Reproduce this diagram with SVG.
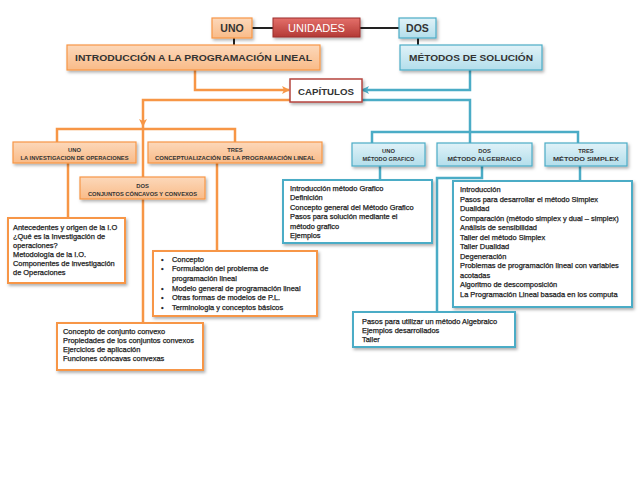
<svg xmlns="http://www.w3.org/2000/svg" width="638" height="479" viewBox="0 0 638 479">
<defs>
<linearGradient id="gOr" x1="0" y1="0" x2="0" y2="1"><stop offset="0" stop-color="#fcd8ba"/><stop offset="1" stop-color="#f9bb88"/></linearGradient>
<linearGradient id="gBl" x1="0" y1="0" x2="0" y2="1"><stop offset="0" stop-color="#e0f2f8"/><stop offset="1" stop-color="#b3deeb"/></linearGradient>
<linearGradient id="gRd" x1="0" y1="0" x2="0" y2="1"><stop offset="0" stop-color="#e4706b"/><stop offset="1" stop-color="#b43a35"/></linearGradient>
<filter id="sh" x="-10%" y="-10%" width="130%" height="140%"><feDropShadow dx="1.5" dy="2" stdDeviation="1.5" flood-color="#000" flood-opacity="0.3"/></filter>
<marker id="aO" markerWidth="8" markerHeight="8" refX="7" refY="4" orient="auto" markerUnits="userSpaceOnUse"><path d="M0,0 L8,4 L0,8 L2,4 Z" fill="#f79646"/></marker>
<marker id="aB" markerWidth="8" markerHeight="8" refX="7" refY="4" orient="auto" markerUnits="userSpaceOnUse"><path d="M0,0 L8,4 L0,8 L2,4 Z" fill="#4bacc6"/></marker>
</defs>
<style>
.bo{fill:url(#gOr);stroke:#f79646;stroke-width:1.2;filter:url(#sh)}
.bb{fill:url(#gBl);stroke:#4bacc6;stroke-width:1.2;filter:url(#sh)}
.wo{fill:#fff;stroke:#f79646;stroke-width:2;filter:url(#sh)}
.wb{fill:#fff;stroke:#4bacc6;stroke-width:2;filter:url(#sh)}
.co{fill:none;stroke:#f79646;stroke-width:2.5}
.cb{fill:none;stroke:#4bacc6;stroke-width:2.5}
.ck{fill:none;stroke:#222;stroke-width:2}
.h{font-family:"Liberation Sans",Arial,sans-serif;font-weight:bold;fill:#333;text-anchor:middle}
.t{font-family:"Liberation Sans",Arial,sans-serif;font-size:7.45px;fill:#222;stroke:#222;stroke-width:0.25}
</style>

<g id="connectors">
<path class="ck" d="M252,28 H273 M360,28 H399 M234,37 V46 M418,37 V46"/>
<path class="co" d="M195,70 V90 H289" marker-end="url(#aO)"/>
<path class="cb" d="M470,70 V90 H362" marker-end="url(#aB)"/>
<path class="co" d="M290,100 H143 V126" marker-end="url(#aO)"/>
<path class="co" d="M143,126 V323"/>
<path class="co" d="M57,142 V129 H235 V142"/>
<path class="co" d="M68,162 V218 M217,162 V251"/>
<path class="cb" d="M361,100 H470 V132"/>
<path class="cb" d="M372,143 V132 H578 V143 M470,132 V143"/>
<path class="cb" d="M380,166 V180 M580,166 V180 M482,166 V178 H437 V312"/>
</g>

<g id="uno-top"><rect class="bo" x="212" y="18" width="40" height="20"/><text class="h" x="232" y="32" font-size="10.5" fill="#222">UNO</text></g>
<g id="unidades"><rect x="273" y="18" width="87" height="19" fill="url(#gRd)" stroke="#9b2f2b" stroke-width="1" filter="url(#sh)"/><text x="316.5" y="31.5" font-family="Liberation Sans,Arial,sans-serif" font-size="11" fill="#fff" text-anchor="middle">UNIDADES</text></g>
<g id="dos-top"><rect class="bb" x="399" y="18" width="37" height="20"/><text class="h" x="417.5" y="32" font-size="10.5" fill="#222">DOS</text></g>

<g id="intro"><rect class="bo" x="67" y="45" width="253" height="25"/><text class="h" x="193.5" y="61" font-size="9.5" textLength="237" lengthAdjust="spacingAndGlyphs">INTRODUCCIÓN A LA PROGRAMACIÓN LINEAL</text></g>
<g id="metodos"><rect class="bb" x="400" y="45" width="142" height="25"/><text class="h" x="471" y="61" font-size="9.5" textLength="124" lengthAdjust="spacingAndGlyphs">MÉTODOS DE SOLUCIÓN</text></g>
<g id="capitulos"><rect x="290" y="79" width="72" height="23" fill="#fff" stroke="#b5453f" stroke-width="1.5" filter="url(#sh)"/><text class="h" x="326" y="94.5" font-size="8.5" fill="#222" textLength="56" lengthAdjust="spacingAndGlyphs">CAPÍTULOS</text></g>

<g id="cap-uno"><rect class="bo" x="13" y="142" width="123" height="21"/><text class="h" x="74.5" y="152" font-size="5.8">UNO</text><text class="h" x="74.5" y="160" font-size="5.8" textLength="108" lengthAdjust="spacingAndGlyphs">LA INVESTIGACION DE OPERACIONES</text></g>
<g id="cap-tres"><rect class="bo" x="148" y="142" width="174" height="21"/><text class="h" x="235" y="152" font-size="5.8">TRES</text><text class="h" x="235" y="160" font-size="5.8" textLength="160" lengthAdjust="spacingAndGlyphs">CONCEPTUALIZACIÓN DE LA PROGRAMACIÓN LINEAL</text></g>
<g id="cap-dos"><rect class="bo" x="80" y="177" width="125" height="22"/><text class="h" x="142.5" y="188" font-size="5.8">DOS</text><text class="h" x="142.5" y="196" font-size="5.8" textLength="109" lengthAdjust="spacingAndGlyphs">CONJUNTOS CÓNCAVOS Y CONVEXOS</text></g>

<g id="met-uno"><rect class="bb" x="352" y="143" width="73" height="23"/><text class="h" x="388.5" y="153" font-size="5.8">UNO</text><text class="h" x="388.5" y="161" font-size="5.8" textLength="52" lengthAdjust="spacingAndGlyphs">MÉTODO GRAFICO</text></g>
<g id="met-dos"><rect class="bb" x="437" y="143" width="95" height="23"/><text class="h" x="484.5" y="153" font-size="5.8">DOS</text><text class="h" x="484.5" y="161" font-size="5.8" textLength="74" lengthAdjust="spacingAndGlyphs">MÉTODO ALGEBRAICO</text></g>
<g id="met-tres"><rect class="bb" x="545" y="143" width="82" height="23"/><text class="h" x="586" y="153" font-size="5.8">TRES</text><text class="h" x="586" y="161" font-size="5.8" textLength="66" lengthAdjust="spacingAndGlyphs">MÉTODO SIMPLEX</text></g>

<g id="antecedentes"><rect class="wo" x="8" y="218" width="117" height="65"/>
<text class="t" font-size="7.7"><tspan x="13" y="230">Antecedentes y origen de la I.O</tspan><tspan x="13" y="239">¿Qué es la Investigación de</tspan><tspan x="13" y="248">operaciones?</tspan><tspan x="13" y="257">Metodología de la I.O.</tspan><tspan x="13" y="266">Componentes de investigación</tspan><tspan x="13" y="275">de Operaciones</tspan></text></g>

<g id="conceptos"><rect class="wo" x="153" y="251" width="164" height="65"/>
<text class="t"><tspan x="161" y="262">•</tspan><tspan x="161" y="271">•</tspan><tspan x="161" y="290.5">•</tspan><tspan x="161" y="300">•</tspan><tspan x="161" y="309.5">•</tspan></text>
<text class="t"><tspan x="172" y="262">Concepto</tspan><tspan x="172" y="271">Formulación del problema de</tspan><tspan x="172" y="280.5">programación lineal</tspan><tspan x="172" y="290.5">Modelo general de programación lineal</tspan><tspan x="172" y="300">Otras formas de modelos de P.L.</tspan><tspan x="172" y="309.5">Terminologia y conceptos básicos</tspan></text></g>

<g id="convexo"><rect class="wo" x="57" y="323" width="146" height="47"/>
<text class="t"><tspan x="63" y="334">Concepto de conjunto convexo</tspan><tspan x="63" y="343">Propiedades de los conjuntos convexos</tspan><tspan x="63" y="352">Ejercicios de aplicación</tspan><tspan x="63" y="361">Funciones cóncavas convexas</tspan></text></g>

<g id="grafico"><rect class="wb" x="283" y="180" width="149" height="63"/>
<text class="t" font-size="7.6"><tspan x="290" y="190.5">Introducción método Grafico</tspan><tspan x="290" y="200">Definición</tspan><tspan x="290" y="209.5">Concepto general del Método Grafico</tspan><tspan x="290" y="219">Pasos para solución mediante el</tspan><tspan x="290" y="228.5">método grafico</tspan><tspan x="290" y="238">Ejemplos</tspan></text></g>

<g id="simplex"><rect class="wb" x="453" y="181" width="179" height="126"/>
<text class="t" font-size="7.9"><tspan x="460" y="192">Introducción</tspan><tspan x="460" y="201.5">Pasos para desarrollar el método Simplex</tspan><tspan x="460" y="211">Dualidad</tspan><tspan x="460" y="220.5">Comparación (método simplex y dual – simplex)</tspan><tspan x="460" y="230">Análisis de sensibilidad</tspan><tspan x="460" y="239.5">Taller del método Simplex</tspan><tspan x="460" y="249">Taller Dualidad</tspan><tspan x="460" y="258.5">Degeneración</tspan><tspan x="460" y="268">Problemas de programación lineal con variables</tspan><tspan x="460" y="277.5">acotadas</tspan><tspan x="460" y="287">Algoritmo de descomposición</tspan><tspan x="460" y="296.5">La Programación Lineal basada en los computa</tspan></text></g>

<g id="algebraico"><rect class="wb" x="353" y="312" width="162" height="35"/>
<text class="t"><tspan x="362" y="323.5">Pasos para utilizar un método Algebraico</tspan><tspan x="362" y="332.5">Ejemplos desarrollados</tspan><tspan x="362" y="341.5">Taller</tspan></text></g>
</svg>
